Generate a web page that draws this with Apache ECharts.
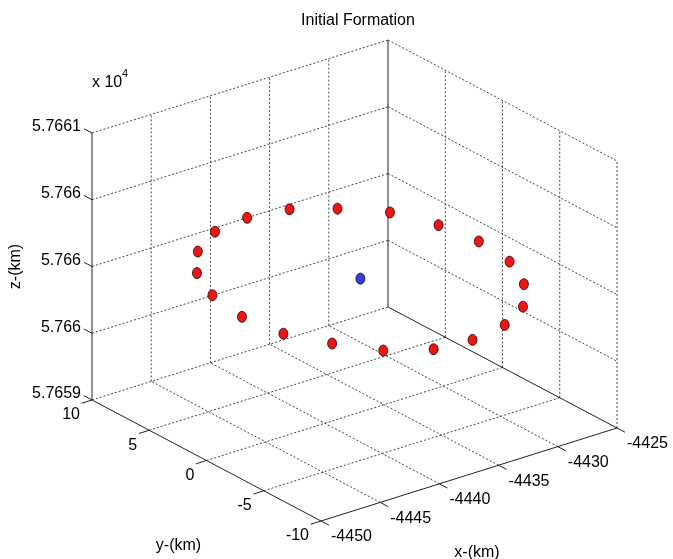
<!DOCTYPE html>
<html>
<head>
<meta charset="utf-8">
<script src="https://cdn.jsdelivr.net/npm/echarts@6/dist/echarts.min.js"></script>
<style>
  html, body { margin: 0; padding: 0; background: #fff; }
  #chart { width: 673px; height: 559px; }
</style>
</head>
<body>
<div id="chart"></div>
<script>
// follower positions (km)
const satX = [-4433.8, -4431.2, -4428.8, -4427.5, -4427.0, -4427.4, -4428.9, -4431.2, -4434.0, -4437.2,
  -4440.2, -4443.0, -4445.0, -4446.6, -4447.1, -4446.5, -4445.1, -4442.9, -4440.0, -4436.9];
const satY = [9.5, 8.0, 5.9, 3.0, 0.0, -3.1, -5.9, -8.2, -9.5, -10.0,
  -9.7, -8.2, -5.8, -3.2, -0.1, 3.1, 5.9, 8.1, 9.6, 10.0];
const satZ = [57660, 57660, 57660, 57660, 57660, 57660, 57660, 57660, 57660, 57660,
  57660, 57660, 57660, 57660, 57660, 57660, 57660, 57660, 57660, 57660];

// leader
const leadX = [-4437.0];
const leadY = [0.0];
const leadZ = [57660.0];

const xTicks = [-4450, -4445, -4440, -4435, -4430, -4425];
const yTicks = [-10, -5, 0, 5, 10];
const zTicks = [57659, 57659.5, 57660, 57660.5, 57661];
const xTickLabels = ['-4450', '-4445', '-4440', '-4435', '-4430', '-4425'];
const yTickLabels = ['-10', '-5', '0', '5', '10'];
const zTickLabels = ['5.7659', '5.766', '5.766', '5.766', '5.7661'];

const xLim = [-4450, -4425];
const yLim = [-10, 10];
const zLim = [57659, 57661];

// where the plot box lands on screen: front-bottom corner and the three edge vectors
const view = { origin: [321, 521], ex: [296, -93], ey: [-229, -121], ez: [0, -267] };
const FONT = '"Liberation Sans", Arial, sans-serif';

function proj(x, y, z) {
  const u = (x - xLim[0]) / (xLim[1] - xLim[0]);
  const v = (y - yLim[0]) / (yLim[1] - yLim[0]);
  const w = (z - zLim[0]) / (zLim[1] - zLim[0]);
  return [
    view.origin[0] + u * view.ex[0] + v * view.ey[0] + w * view.ez[0],
    view.origin[1] + u * view.ex[1] + v * view.ey[1] + w * view.ez[1],
  ];
}

const [x0, x1] = xLim;
const [y0, y1] = yLim;
const [z0, z1] = zLim;

// dotted grid on the three back planes
const gridSegs = [];
xTicks.slice(1, -1).forEach((x) => {
  gridSegs.push([x, y1, z0, x, y1, z1]); // back wall
  gridSegs.push([x, y0, z0, x, y1, z0]); // floor
});
yTicks.slice(1, -1).forEach((y) => {
  gridSegs.push([x1, y, z0, x1, y, z1]); // right wall
  gridSegs.push([x0, y, z0, x1, y, z0]); // floor
});
zTicks.forEach((z) => {
  gridSegs.push([x0, y1, z, x1, y1, z]);
  if (z !== z0) gridSegs.push([x1, y1, z, x1, y0, z]);
});
gridSegs.push([x1, y0, z0, x1, y0, z1]); // right edge

// solid axis lines
const axisSegs = [
  [x0, y1, z0, x0, y1, z1],
  [x0, y1, z0, x0, y0, z0],
  [x0, y0, z0, x1, y0, z0],
  [x1, y1, z0, x1, y1, z1],
  [x1, y1, z0, x1, y0, z0],
];
const tk = 0.035;
zTicks.forEach((z) => axisSegs.push([x0, y1, z, x0, y1 + tk * (y1 - y0), z]));
yTicks.forEach((y) => axisSegs.push([x0, y, z0, x0 - tk * (x1 - x0), y, z0]));
xTicks.forEach((x) => axisSegs.push([x, y0, z0, x, y0 - tk * (y1 - y0), z0]));

function segSeries(segs, style, z) {
  return {
    type: 'custom',
    coordinateSystem: 'cartesian2d',
    silent: true,
    z,
    data: segs.map((s, i) => [i, 0]),
    renderItem: (params, api) => {
      const s = segs[params.dataIndex];
      const a = api.coord(proj(s[0], s[1], s[2]));
      const b = api.coord(proj(s[3], s[4], s[5]));
      return {
        type: 'line',
        shape: { x1: a[0], y1: a[1], x2: b[0], y2: b[1] },
        style,
      };
    },
  };
}

// tick labels, anchored at the projected tick point with a small screen offset
const labels = [];
zTicks.forEach((z, i) => labels.push({ p: [x0, y1, z], dx: -11, dy: -6, text: zTickLabels[i], align: 'right' }));
yTicks.forEach((y, i) => labels.push({ p: [x0, y, z0], dx: -12, dy: 15, text: yTickLabels[i], align: 'right' }));
xTicks.forEach((x, i) => labels.push({ p: [x, y0, z0], dx: 10, dy: 16, text: xTickLabels[i], align: 'left' }));
labels.push({ p: [x0, y1, z1], dx: 0, dy: -50, text: 'x 10', align: 'left' });
labels.push({ p: [x0, y1, z1], dx: 30, dy: -59, text: '4', align: 'left', size: 11 });
labels.push({ p: [x0, (y0 + y1) / 2, z0], dx: -28, dy: 85, text: 'y-(km)', align: 'center' });
labels.push({ p: [(x0 + x1) / 2, y0, z0], dx: 8, dy: 78, text: 'x-(km)', align: 'center' });
labels.push({ p: [x0, y1, (z0 + z1) / 2], dx: -76, dy: 0, text: 'z-(km)', align: 'center', rot: Math.PI / 2 });

const chart = echarts.init(document.getElementById('chart'));
chart.setOption({
  animation: false,
  backgroundColor: '#fff',
  title: {
    text: 'Initial Formation',
    left: 353,
    top: 8,
    textAlign: 'center',
    textStyle: { fontFamily: FONT, fontSize: 16, fontWeight: 'normal', color: '#000' },
  },
  grid: { left: 0, right: 0, top: 0, bottom: 0 },
  xAxis: { type: 'value', min: 0, max: 673, show: false },
  yAxis: { type: 'value', min: 0, max: 559, inverse: true, show: false },
  series: [
    segSeries(gridSegs, { stroke: '#444', lineWidth: 1, lineDash: [2, 2] }, 1),
    segSeries(axisSegs, { stroke: '#222', lineWidth: 1 }, 2),
    {
      type: 'custom',
      coordinateSystem: 'cartesian2d',
      silent: true,
      z: 3,
      data: labels.map((l, i) => [i, 0]),
      renderItem: (params, api) => {
        const l = labels[params.dataIndex];
        const c = api.coord(proj(l.p[0], l.p[1], l.p[2]));
        return {
          type: 'text',
          x: c[0] + l.dx,
          y: c[1] + l.dy,
          rotation: l.rot || 0,
          style: {
            text: l.text,
            fill: '#000',
            font: `${l.size || 16}px ${FONT}`,
            align: l.align,
            verticalAlign: 'middle',
          },
        };
      },
    },
    {
      type: 'scatter',
      z: 4,
      symbol: 'circle',
      symbolSize: [9, 11],
      itemStyle: { color: '#ee1515', borderColor: '#300', borderWidth: 0.8, opacity: 1 },
      data: satX.map((x, i) => proj(x, satY[i], satZ[i])),
    },
    {
      type: 'scatter',
      z: 4,
      symbol: 'circle',
      symbolSize: [9, 11],
      itemStyle: { color: '#3340d8', borderColor: '#002', borderWidth: 0.8, opacity: 1 },
      data: leadX.map((x, i) => proj(x, leadY[i], leadZ[i])),
    },
  ],
});
</script>
</body>
</html>
